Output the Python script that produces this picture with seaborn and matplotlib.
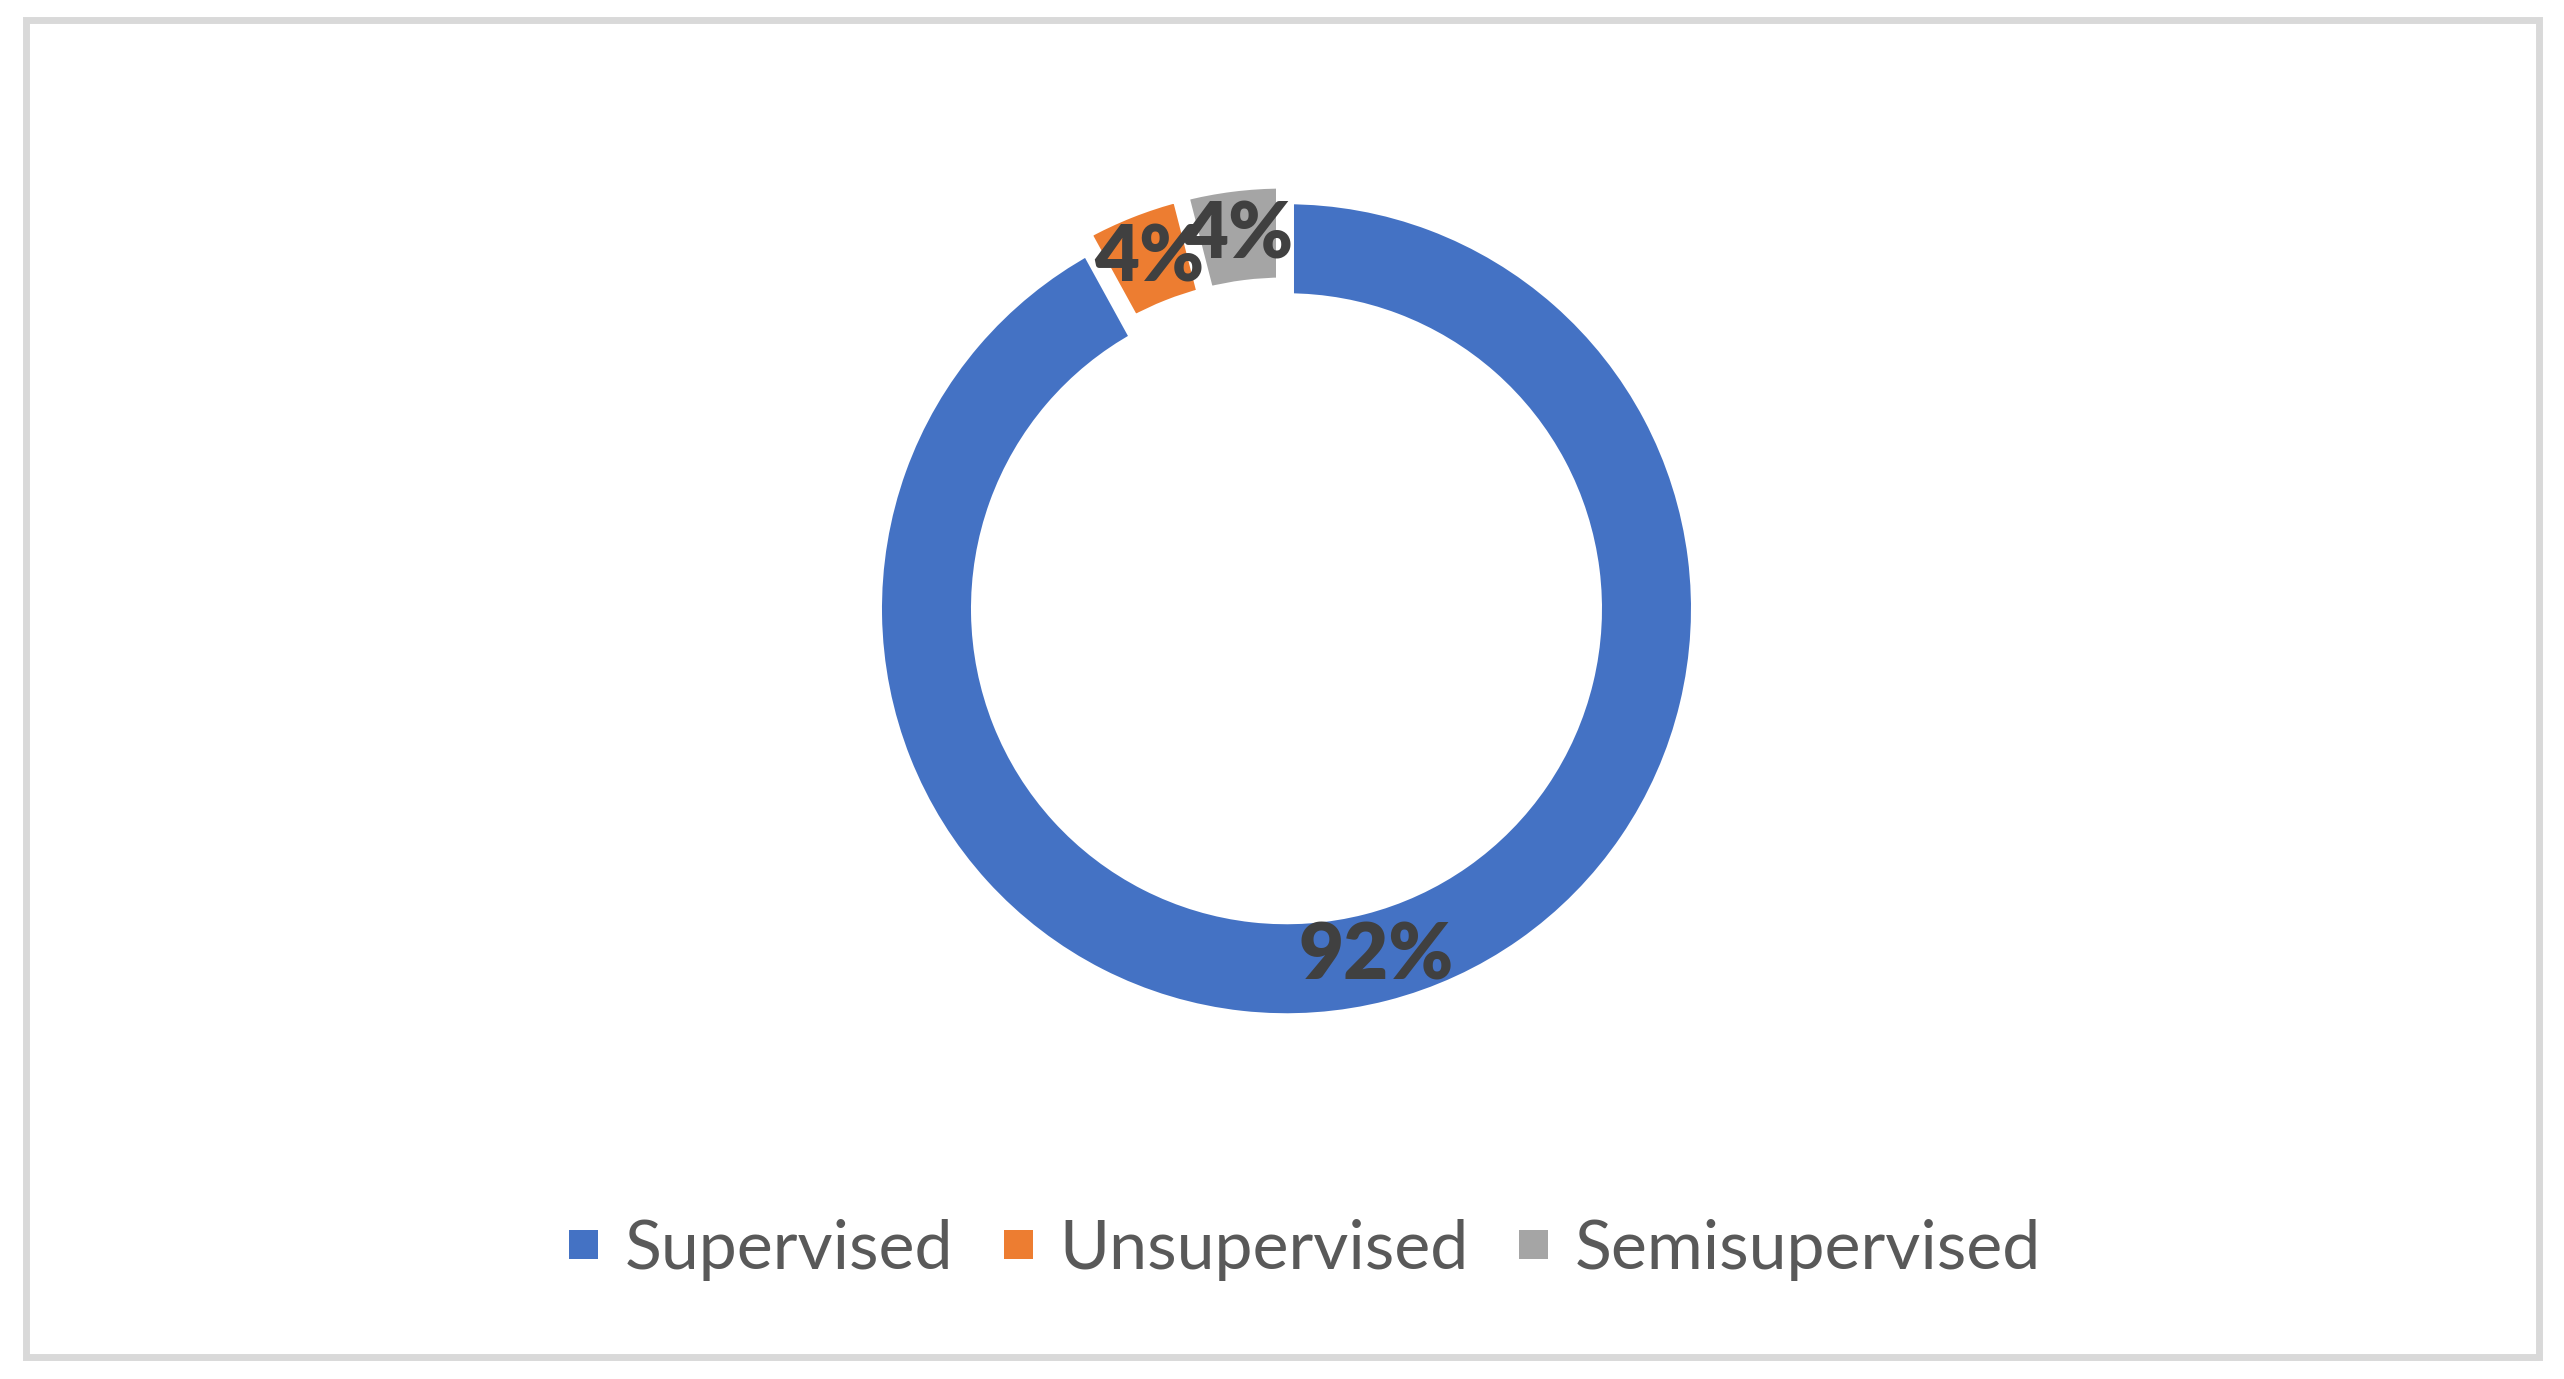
import matplotlib
matplotlib.use('Agg')
import matplotlib.pyplot as plt
import matplotlib.patches as mpatches
import seaborn as sns

# Data
categories = ['Supervised', 'Unsupervised', 'Semisupervised']
shares = [92, 4, 4]
colors = ['#4472C4', '#ED7D31', '#A5A5A5']

sns.set_theme(style='white')
plt.rcParams['font.family'] = ['Lato', 'DejaVu Sans']

W, H = 2564, 1379
fig = plt.figure(figsize=(W / 100, H / 100), dpi=100)
ax = fig.add_axes([0, 0, 1, 1])

# Doughnut, drawn in pixel units
radius = 412
wedges, texts, autotexts = ax.pie(
    shares,
    colors=colors,
    startangle=90,
    counterclock=False,
    center=(1284.5, H - 601),
    radius=radius,
    explode=[8, 8, 8],
    autopct='%1.0f%%',
    pctdistance=360 / radius,
    wedgeprops={'width': 104, 'edgecolor': 'white', 'linewidth': 10.8},
    textprops={'fontsize': 56, 'fontweight': 'heavy', 'color': '#404040'},
)

ax.set_xlim(0, W)
ax.set_ylim(0, H)
ax.set_aspect('equal')
ax.axis('off')

# Legend
handles = [mpatches.Patch(facecolor=c, edgecolor='none', label=l)
           for c, l in zip(colors, categories)]
fig.legend(handles=handles, loc='center', ncol=3, frameon=False,
           bbox_to_anchor=(1305 / W, (H - 1250) / H),
           fontsize=49, labelcolor='#595959',
           handlelength=0.42, handleheight=0.27,
           handletextpad=0.39, columnspacing=0.75)

# Chart border
border = mpatches.Rectangle((25.5, 22), 2538.5 - 25.5, 1359.5 - 22,
                            fill=False, edgecolor='#D9D9D9', linewidth=5.0,
                            clip_on=False)
ax.add_patch(border)

fig.savefig('out.png', dpi=100)
plt.close(fig)
